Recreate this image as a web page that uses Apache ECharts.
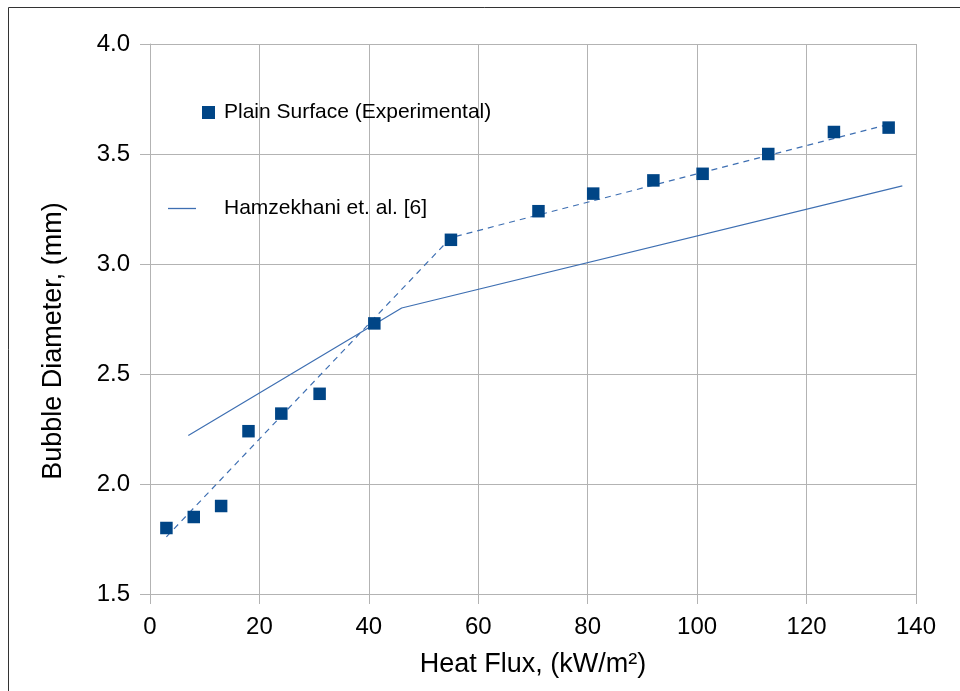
<!DOCTYPE html>
<html>
<head>
<meta charset="utf-8">
<script src="https://cdn.jsdelivr.net/npm/echarts@6/dist/echarts.min.js"></script>
<style>
html,body{margin:0;padding:0;background:#fff;}
#chart{width:960px;height:691px;}
</style>
</head>
<body>
<div id="chart"></div>
<script>
// Experimental data
var heatFlux = [3, 8, 13, 18, 24, 31, 41, 55, 71, 81, 92, 101, 113, 125, 135];
var diameter = [1.80, 1.85, 1.90, 2.24, 2.32, 2.41, 2.73, 3.11, 3.24, 3.32, 3.38, 3.41, 3.50, 3.60, 3.62];
// Dashed trend through experimental data
var trendX = [3, 55, 135];
var trendY = [1.76, 3.12, 3.635];
// Hamzekhani et. al. [6] correlation
var hamX = [7, 46, 137.5];
var hamY = [2.22, 2.80, 3.355];
// Axis ticks
var xTicks = [0, 20, 40, 60, 80, 100, 120, 140];
var yTicks = [1.5, 2.0, 2.5, 3.0, 3.5, 4.0];

function pairs(xs, ys) { return xs.map(function (x, i) { return [x, ys[i]]; }); }

var FONT = 'Liberation Sans';
var chart = echarts.init(document.getElementById('chart'), null, {renderer: 'canvas'});
chart.setOption({
  backgroundColor: '#ffffff',
  animation: false,
  textStyle: {fontFamily: FONT, color: '#000'},
  graphic: [{
    type: 'rect', silent: true,
    shape: {x: 8.5, y: 7.5, width: 1000, height: 1000},
    style: {fill: 'none', stroke: '#333', lineWidth: 1}
  }],
  grid: {left: 150, right: 44, top: 44, bottom: 97, containLabel: false},
  legend: [{
    data: [{name: 'Plain Surface (Experimental)', icon: 'rect'}],
    left: 202, top: 102, padding: 0, itemWidth: 13, itemHeight: 13,
    textStyle: {fontFamily: FONT, fontSize: 21, color: '#000', padding: [0, 0, 0, 4]}
  }, {
    data: [{name: 'Hamzekhani et. al. [6]', icon: 'rect'}],
    left: 168, top: 198, padding: 0, itemWidth: 28, itemHeight: 1.3,
    textStyle: {fontFamily: FONT, fontSize: 21, color: '#000', padding: [0, 0, 0, 23]}
  }],
  xAxis: {
    type: 'value', min: xTicks[0], max: xTicks[xTicks.length - 1], interval: 20,
    name: 'Heat Flux, (kW/m²)', nameLocation: 'middle', nameGap: 57,
    nameTextStyle: {fontFamily: FONT, fontSize: 27, color: '#000'},
    axisLine: {show: true, lineStyle: {color: '#b3b3b3', width: 1}},
    axisTick: {show: true, length: 10, lineStyle: {color: '#b3b3b3'}},
    axisLabel: {fontFamily: FONT, fontSize: 24, color: '#000', margin: 21},
    splitLine: {show: true, lineStyle: {color: '#b3b3b3', width: 1}}
  },
  yAxis: {
    type: 'value', min: yTicks[0], max: yTicks[yTicks.length - 1], interval: 0.5,
    name: 'Bubble Diameter, (mm)', nameLocation: 'middle', nameGap: 83,
    nameTextStyle: {fontFamily: FONT, fontSize: 27, color: '#000', padding: [0, 44, 0, 0]},
    axisLine: {show: true, lineStyle: {color: '#b3b3b3', width: 1}},
    axisTick: {show: true, length: 10, lineStyle: {color: '#b3b3b3'}},
    axisLabel: {fontFamily: FONT, fontSize: 24, color: '#000', margin: 20,
      formatter: function (v) { return v.toFixed(1); }},
    splitLine: {show: true, lineStyle: {color: '#b3b3b3', width: 1}}
  },
  series: [{
    name: 'trend', type: 'line', data: pairs(trendX, trendY),
    showSymbol: false, symbol: 'none', silent: true, z: 2,
    lineStyle: {color: '#3e6fb2', width: 1.2, type: [6, 5]}
  }, {
    name: 'Hamzekhani et. al. [6]', type: 'line', data: pairs(hamX, hamY),
    showSymbol: false, symbol: 'none', z: 2,
    itemStyle: {color: '#3e6fb2'},
    lineStyle: {color: '#3e6fb2', width: 1.2}
  }, {
    name: 'Plain Surface (Experimental)', type: 'scatter', data: pairs(heatFlux, diameter),
    symbol: 'rect', symbolSize: 12.5, z: 3,
    itemStyle: {color: '#004586', opacity: 1}
  }]
});
</script>
</body>
</html>
